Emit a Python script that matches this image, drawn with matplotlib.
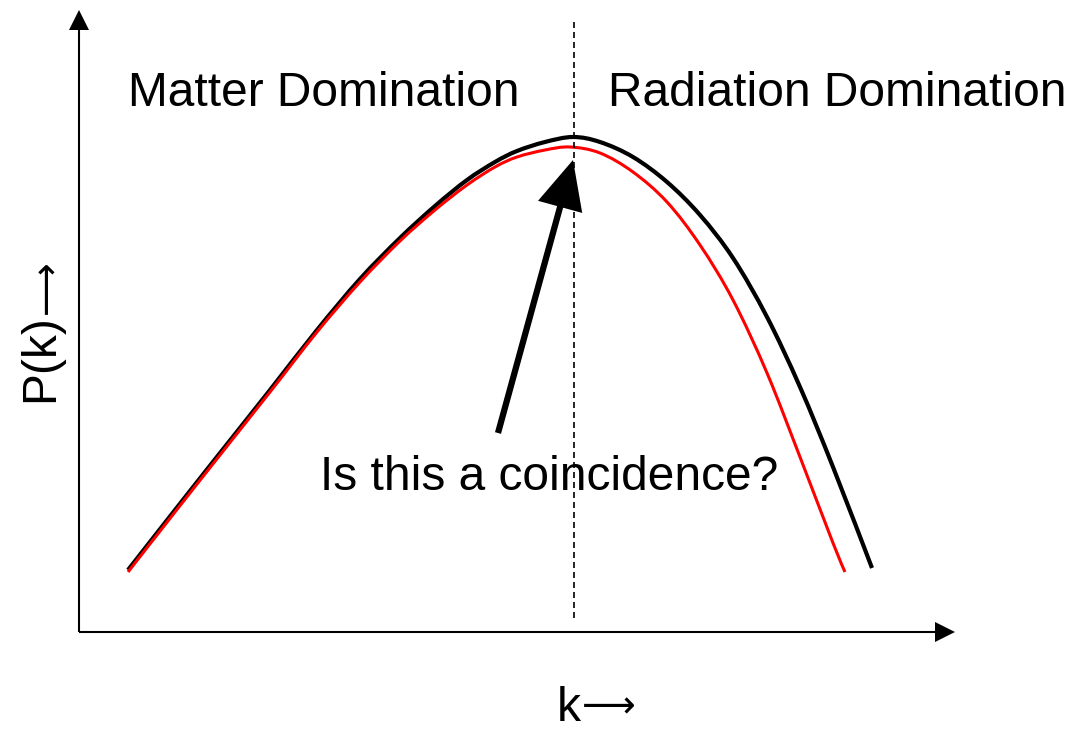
import matplotlib
matplotlib.use("Agg")
import numpy as np
import matplotlib.pyplot as plt
from matplotlib.patches import FancyArrowPatch, PathPatch
from matplotlib.path import Path

plt.rcParams['font.family'] = ['Liberation Sans', 'DejaVu Sans']

# curve samples (arbitrary k / P(k) units)
k_black = [0.49, 0.96, 1.41, 1.91, 2.38, 2.81, 3.21, 3.56, 3.88, 4.16, 4.38,
           4.66, 4.94, 5.21, 5.54, 5.88, 6.21, 6.54, 6.88, 7.21, 7.54, 7.93]
p_black = [0.62, 1.22, 1.79, 2.42, 3.02, 3.53, 3.94, 4.26, 4.52, 4.70, 4.81,
           4.90, 4.95, 4.90, 4.75, 4.50, 4.17, 3.74, 3.15, 2.45, 1.65, 0.64]

k_red = [0.49, 0.96, 1.41, 1.91, 2.38, 2.81, 3.21, 3.56, 3.88, 4.16, 4.38,
         4.66, 4.91, 5.21, 5.54, 5.88, 6.21, 6.54, 6.88, 7.21, 7.54, 7.66]
p_red = [0.60, 1.20, 1.77, 2.40, 3.00, 3.50, 3.91, 4.22, 4.47, 4.65, 4.75,
         4.82, 4.85, 4.79, 4.60, 4.30, 3.87, 3.32, 2.59, 1.75, 0.89, 0.60]

k_eq = 4.95          # matter-radiation equality (dashed line)
arrow_tail = (4.19, 1.99)
arrow_tip = (4.94, 4.72)

label_left = "Matter Domination"
label_right = "Radiation Domination"
question = "Is this a coincidence?"


def smooth_path(xs, ys):
    # bezier through the sampled points (catmull-rom tangents)
    pts = np.column_stack([xs, ys])
    n = len(pts)
    verts = [pts[0]]
    codes = [Path.MOVETO]
    for i in range(n - 1):
        p0 = pts[max(i - 1, 0)]
        p1 = pts[i]
        p2 = pts[i + 1]
        p3 = pts[min(i + 2, n - 1)]
        verts += [p1 + (p2 - p0) / 6, p2 - (p3 - p1) / 6, p2]
        codes += [Path.CURVE4] * 3
    return Path(verts, codes)


def main():
    fig = plt.figure(figsize=(10.76, 7.32), dpi=100)
    ax = fig.add_axes([79 / 1076, 100 / 732, 876 / 1076, 622 / 732])
    ax.set_xlim(0, 8.76)
    ax.set_ylim(0, 6.22)
    ax.axis('off')

    # axes with arrow heads
    axis_style = 'simple,head_length=14.4,head_width=14.4,tail_width=1.5'
    for end in [(1, 0), (0, 1)]:
        a = FancyArrowPatch((0, 0), end, transform=ax.transAxes,
                            arrowstyle=axis_style, mutation_scale=1,
                            shrinkA=0, shrinkB=0, color='black', lw=0,
                            clip_on=False)
        ax.add_patch(a)

    ax.add_patch(PathPatch(smooth_path(k_black, p_black), fill=False,
                           edgecolor='black', lw=3.0, capstyle='butt'))
    ax.add_patch(PathPatch(smooth_path(k_red, p_red), fill=False,
                           edgecolor='#ff0000', lw=2.2, capstyle='butt'))

    ax.vlines(k_eq, 0.14, 6.12, colors='black', lw=1.2,
              linestyles=(0, (3.6, 2.4)))

    big = FancyArrowPatch(arrow_tail, arrow_tip,
                          arrowstyle='simple,head_length=35,head_width=33,'
                                     'tail_width=4.5',
                          mutation_scale=1, shrinkA=0, shrinkB=0,
                          color='black', lw=0)
    ax.add_patch(big)

    fs = 34.5
    ax.text(0.49, 5.26, label_left, fontsize=fs, va='baseline', ha='left',
            clip_on=False)
    ax.text(5.29, 5.26, label_right, fontsize=fs, va='baseline', ha='left',
            clip_on=False)
    ax.text(2.41, 1.42, question, fontsize=fs, va='baseline', ha='left',
            clip_on=False)

    # axis names, long arrow drawn a bit smaller like the original
    ax.text(4.78, -0.89, "k", fontsize=fs, va='baseline', ha='left',
            clip_on=False)
    ax.text(5.03, -0.85, "\u27f6", fontsize=27, va='baseline', ha='left',
            family='DejaVu Sans', clip_on=False)
    ax.text(-0.26, 2.30, "P(k)", fontsize=fs, va='baseline',
            ha='left', rotation=90, rotation_mode='anchor', clip_on=False)
    ax.text(-0.22, 3.18, "\u27f6", fontsize=27, va='baseline',
            ha='left', rotation=90, rotation_mode='anchor',
            family='DejaVu Sans', clip_on=False)

    fig.savefig('out.png', dpi=100)


if __name__ == "__main__":
    main()
